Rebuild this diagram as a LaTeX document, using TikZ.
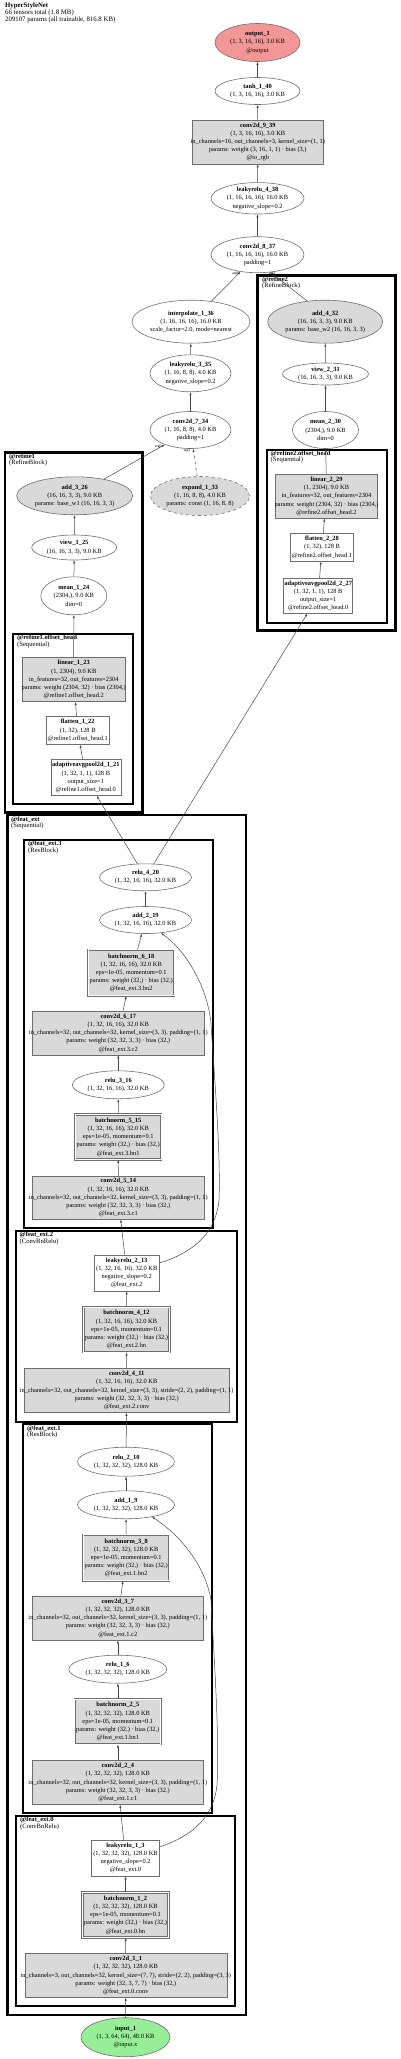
\documentclass[tikz,border=0pt]{standalone}
\usepackage{fontspec}
\setmainfont{Liberation Serif}
\usetikzlibrary{shapes.geometric,arrows.meta}
\definecolor{nodegray}{RGB}{217,217,217}
\definecolor{outred}{RGB}{243,150,150}
\definecolor{ingreen}{RGB}{150,238,150}
\definecolor{bord}{RGB}{110,110,110}
\definecolor{edgec}{RGB}{70,70,70}
\newcommand\mkl[1]{\makebox[0pt]{#1}}
\newcommand\nfont{\fontsize{6.4}{8.2}\selectfont}
\newcommand\cfont{\fontsize{6.6}{6.3}\selectfont}
\newcommand\hfont{\fontsize{6.8}{6}\selectfont}
\newcommand\efont{\fontsize{3.8}{4}\selectfont}
\tikzset{
  base/.style={draw=bord, line width=0.6pt, inner sep=0pt, align=center, font=\nfont},
  ell/.style={base, ellipse},
  box/.style={base, rectangle},
  gbox/.style={box, fill=nodegray},
  dbox/.style={gbox, double=white, double distance=1pt},
  edge/.style={draw=edgec, line width=0.5pt, -{Latex[length=3pt,width=2.2pt]}},
  elab/.style={font=\efont, inner sep=0pt, text=black},
  clA/.style={draw=black, line width=2.6pt},
  clB/.style={draw=black, line width=1.7pt},
  clab/.style={anchor=north west, align=left, inner sep=0pt, font=\cfont},
}
\begin{document}
\begin{tikzpicture}[x=1pt,y=-1pt]
\useasboundingbox (0,0) rectangle (400,2059);

% header
\node[anchor=north west, align=left, inner sep=0pt, font=\hfont] (title) at (5,2.2)
 {\textbf{HyperStyleNet}\\66 tensors total (1.8 MB)\\209107 params (all trainable, 816.8 KB)};

% clusters
\draw[clA] (257.7,275.7) rectangle (395.7,630.7);
\node[clab] (c_refine2) at (262,276.8) {\textbf{@refine2}\\(RefineBlock)};
\draw[clB] (266.7,450) rectangle (386.7,622.7);
\node[clab] (c_refine2oh) at (270.5,450.8) {\textbf{@refine2.offset\_head}\\(Sequential)};
\draw[clA] (5,452.3) rectangle (142.7,812.7);
\node[clab] (c_refine1) at (9,453.4) {\textbf{@refine1}\\(RefineBlock)};
\draw[clB] (13.3,634) rectangle (133.3,804.3);
\node[clab] (c_refine1oh) at (17,635) {\textbf{@refine1.offset\_head}\\(Sequential)};
\draw[clA] (7.3,815) rectangle (246,2015);
\node[clab] (c_feat) at (11,816.5) {\textbf{@feat\_ext}\\(Sequential)};
\draw[clB] (24,840) rectangle (212.7,1227.7);
\node[clab] (c_feat3) at (28,841) {\textbf{@feat\_ext.3}\\(ResBlock)};
\draw[clB] (15.7,1231) rectangle (237.3,1421.7);
\node[clab] (c_feat2) at (19.5,1232) {\textbf{@feat\_ext.2}\\(ConvBnRelu)};
\draw[clB] (23.3,1424.3) rectangle (212.3,1813.3);
\node[clab] (c_feat1) at (27,1425.3) {\textbf{@feat\_ext.1}\\(ResBlock)};
\draw[clB] (16,1816) rectangle (235.3,2006);
\node[clab] (c_feat0) at (20,1817) {\textbf{@feat\_ext.0}\\(ConvBnRelu)};

% nodes
\node[ell, fill=outred, minimum width=85pt, minimum height=38pt] (output1) at (257.5,42.5)
 {\mkl{\textbf{output\_1}}\\\mkl{(1, 3, 16, 16), 3.0 KB}\\\mkl{@output}};
\node[ell, minimum width=85pt, minimum height=27pt] (tanh40) at (257.5,91)
 {\mkl{\textbf{tanh\_1\_40}}\\\mkl{(1, 3, 16, 16), 3.0 KB}};
\node[gbox, minimum width=131pt, minimum height=44pt] (conv39) at (257.8,142)
 {\mkl{\textbf{conv2d\_9\_39}}\\\mkl{(1, 3, 16, 16), 3.0 KB}\\\mkl{in\_channels=16, out\_channels=3, kernel\_size=(1, 1)}\\\mkl{params: weight (3, 16, 1, 1) · bias (3,)}\\\mkl{@to\_rgb}};
\node[ell, minimum width=93pt, minimum height=31pt] (lrelu38) at (257.5,198.3)
 {\mkl{\textbf{leakyrelu\_4\_38}}\\\mkl{(1, 16, 16, 16), 16.0 KB}\\\mkl{negative\_slope=0.2}};
\node[ell, minimum width=93pt, minimum height=36pt] (conv37) at (257.5,254.7)
 {\mkl{\textbf{conv2d\_8\_37}}\\\mkl{(1, 16, 16, 16), 16.0 KB}\\\mkl{padding=1}};
\node[ell, minimum width=118pt, minimum height=43pt] (interp36) at (191,321.7)
 {\mkl{\textbf{interpolate\_1\_36}}\\\mkl{(1, 16, 16, 16), 16.0 KB}\\\mkl{scale\_factor=2.0, mode=nearest}};
\node[ell, fill=nodegray, minimum width=115pt, minimum height=43pt] (add32) at (325.2,321.7)
 {\mkl{\textbf{add\_4\_32}}\\\mkl{(16, 16, 3, 3), 9.0 KB}\\\mkl{params: base\_w2 (16, 16, 3, 3)}};
\node[ell, minimum width=81pt, minimum height=37pt] (lrelu35) at (190.5,373.3)
 {\mkl{\textbf{leakyrelu\_3\_35}}\\\mkl{(1, 16, 8, 8), 4.0 KB}\\\mkl{negative\_slope=0.2}};
\node[ell, minimum width=81pt, minimum height=37pt] (conv34) at (190.5,430)
 {\mkl{\textbf{conv2d\_7\_34}}\\\mkl{(1, 16, 8, 8), 4.0 KB}\\\mkl{padding=1}};
\node[ell, minimum width=86pt, minimum height=22pt] (view31) at (325.5,374)
 {\mkl{\textbf{view\_2\_31}}\\\mkl{(16, 16, 3, 3), 9.0 KB}};
\node[ell, minimum width=66pt, minimum height=37pt] (mean30) at (325.5,430)
 {\mkl{\textbf{mean\_2\_30}}\\\mkl{(2304,), 9.0 KB}\\\mkl{dim=0}};
\node[gbox, minimum width=102pt, minimum height=44pt] (lin29) at (326.5,496.3)
 {\mkl{\textbf{linear\_2\_29}}\\\mkl{(1, 2304), 9.0 KB}\\\mkl{in\_features=32, out\_features=2304}\\\mkl{params: weight (2304, 32) · bias (2304,)}\\\mkl{@refine2.offset\_head.2}};
\node[ell, fill=nodegray, minimum width=116pt, minimum height=38pt] (add26) at (74.7,495.8)
 {\mkl{\textbf{add\_3\_26}}\\\mkl{(16, 16, 3, 3), 9.0 KB}\\\mkl{params: base\_w1 (16, 16, 3, 3)}};
\node[ell, fill=nodegray, dashed, minimum width=99pt, minimum height=39pt] (expand33) at (200,496)
 {\mkl{\textbf{expand\_1\_33}}\\\mkl{(1, 16, 8, 8), 4.0 KB}\\\mkl{params: const (1, 16, 8, 8)}};
\node[ell, minimum width=85pt, minimum height=25pt] (view25) at (74.2,547.5)
 {\mkl{\textbf{view\_1\_25}}\\\mkl{(16, 16, 3, 3), 9.0 KB}};
\node[ell, minimum width=66pt, minimum height=38pt] (mean24) at (73.8,595.8)
 {\mkl{\textbf{mean\_1\_24}}\\\mkl{(2304,), 9.0 KB}\\\mkl{dim=0}};
\node[box, minimum width=63pt, minimum height=28pt] (flat28) at (322,547.2)
 {\mkl{\textbf{flatten\_2\_28}}\\\mkl{(1, 32), 128 B}\\\mkl{@refine2.offset\_head.1}};
\node[box, minimum width=69pt, minimum height=35pt] (pool27) at (318.2,595.8)
 {\mkl{\textbf{adaptiveavgpool2d\_2\_27}}\\\mkl{(1, 32, 1, 1), 128 B}\\\mkl{output\_size=1}\\\mkl{@refine2.offset\_head.0}};
\node[gbox, minimum width=103pt, minimum height=44pt] (lin23) at (73.7,679.7)
 {\mkl{\textbf{linear\_1\_23}}\\\mkl{(1, 2304), 9.0 KB}\\\mkl{in\_features=32, out\_features=2304}\\\mkl{params: weight (2304, 32) · bias (2304,)}\\\mkl{@refine1.offset\_head.2}};
\node[box, minimum width=63pt, minimum height=28pt] (flat22) at (77.7,730.5)
 {\mkl{\textbf{flatten\_1\_22}}\\\mkl{(1, 32), 128 B}\\\mkl{@refine1.offset\_head.1}};
\node[box, minimum width=70pt, minimum height=36pt] (pool21) at (85.8,777.5)
 {\mkl{\textbf{adaptiveavgpool2d\_1\_21}}\\\mkl{(1, 32, 1, 1), 128 B}\\\mkl{output\_size=1}\\\mkl{@refine1.offset\_head.0}};
\node[ell, minimum width=92pt, minimum height=27pt] (relu20) at (145.5,877.3)
 {\mkl{\textbf{relu\_4\_20}}\\\mkl{(1, 32, 16, 16), 32.0 KB}};
\node[ell, minimum width=92pt, minimum height=27pt] (add19) at (145.5,920)
 {\mkl{\textbf{add\_2\_19}}\\\mkl{(1, 32, 16, 16), 32.0 KB}};
\node[dbox, minimum width=86pt, minimum height=46pt] (bn18) at (131.2,972.8)
 {\mkl{\textbf{batchnorm\_6\_18}}\\\mkl{(1, 32, 16, 16), 32.0 KB}\\\mkl{eps=1e-05, momentum=0.1}\\\mkl{params: weight (32,) · bias (32,)}\\\mkl{@feat\_ext.3.bn2}};
\node[gbox, minimum width=172pt, minimum height=44pt] (conv17) at (118.3,1033)
 {\mkl{\textbf{conv2d\_6\_17}}\\\mkl{(1, 32, 16, 16), 32.0 KB}\\\mkl{in\_channels=32, out\_channels=32, kernel\_size=(3, 3), padding=(1, 1)}\\\mkl{params: weight (32, 32, 3, 3) · bias (32,)}\\\mkl{@feat\_ext.3.c2}};
\node[ell, minimum width=92pt, minimum height=28pt] (relu16) at (118.3,1084.8)
 {\mkl{\textbf{relu\_3\_16}}\\\mkl{(1, 32, 16, 16), 32.0 KB}};
\node[dbox, minimum width=86pt, minimum height=45pt] (bn15) at (118.2,1137)
 {\mkl{\textbf{batchnorm\_5\_15}}\\\mkl{(1, 32, 16, 16), 32.0 KB}\\\mkl{eps=1e-05, momentum=0.1}\\\mkl{params: weight (32,) · bias (32,)}\\\mkl{@feat\_ext.3.bn1}};
\node[gbox, minimum width=172pt, minimum height=43pt] (conv14) at (118.3,1197.7)
 {\mkl{\textbf{conv2d\_5\_14}}\\\mkl{(1, 32, 16, 16), 32.0 KB}\\\mkl{in\_channels=32, out\_channels=32, kernel\_size=(3, 3), padding=(1, 1)}\\\mkl{params: weight (32, 32, 3, 3) · bias (32,)}\\\mkl{@feat\_ext.3.c1}};
\node[box, minimum width=65pt, minimum height=36pt] (lrelu13) at (126.7,1273)
 {\mkl{\textbf{leakyrelu\_2\_13}}\\\mkl{(1, 32, 16, 16), 32.0 KB}\\\mkl{negative\_slope=0.2}\\\mkl{@feat\_ext.2}};
\node[dbox, minimum width=86pt, minimum height=45pt] (bn12) at (126.5,1329.7)
 {\mkl{\textbf{batchnorm\_4\_12}}\\\mkl{(1, 32, 16, 16), 32.0 KB}\\\mkl{eps=1e-05, momentum=0.1}\\\mkl{params: weight (32,) · bias (32,)}\\\mkl{@feat\_ext.2.bn}};
\node[gbox, minimum width=205pt, minimum height=44pt] (conv11) at (126.7,1390.5)
 {\mkl{\textbf{conv2d\_4\_11}}\\\mkl{(1, 32, 16, 16), 32.0 KB}\\\mkl{in\_channels=32, out\_channels=32, kernel\_size=(3, 3), stride=(2, 2), padding=(1, 1)}\\\mkl{params: weight (32, 32, 3, 3) · bias (32,)}\\\mkl{@feat\_ext.2.conv}};
\node[ell, minimum width=97pt, minimum height=29pt] (relu10) at (126,1461.7)
 {\mkl{\textbf{relu\_2\_10}}\\\mkl{(1, 32, 32, 32), 128.0 KB}};
\node[ell, minimum width=97pt, minimum height=28pt] (add9) at (126,1504.8)
 {\mkl{\textbf{add\_1\_9}}\\\mkl{(1, 32, 32, 32), 128.0 KB}};
\node[dbox, minimum width=86pt, minimum height=46pt] (bn8) at (126.2,1557.8)
 {\mkl{\textbf{batchnorm\_3\_8}}\\\mkl{(1, 32, 32, 32), 128.0 KB}\\\mkl{eps=1e-05, momentum=0.1}\\\mkl{params: weight (32,) · bias (32,)}\\\mkl{@feat\_ext.1.bn2}};
\node[gbox, minimum width=171pt, minimum height=44pt] (conv7) at (117.8,1618)
 {\mkl{\textbf{conv2d\_3\_7}}\\\mkl{(1, 32, 32, 32), 128.0 KB}\\\mkl{in\_channels=32, out\_channels=32, kernel\_size=(3, 3), padding=(1, 1)}\\\mkl{params: weight (32, 32, 3, 3) · bias (32,)}\\\mkl{@feat\_ext.1.c2}};
\node[ell, minimum width=98pt, minimum height=28pt] (relu6) at (117.8,1669.2)
 {\mkl{\textbf{relu\_1\_6}}\\\mkl{(1, 32, 32, 32), 128.0 KB}};
\node[dbox, minimum width=86pt, minimum height=45pt] (bn5) at (117.8,1721.7)
 {\mkl{\textbf{batchnorm\_2\_5}}\\\mkl{(1, 32, 32, 32), 128.0 KB}\\\mkl{eps=1e-05, momentum=0.1}\\\mkl{params: weight (32,) · bias (32,)}\\\mkl{@feat\_ext.1.bn1}};
\node[gbox, minimum width=171pt, minimum height=44pt] (conv4) at (117.8,1782.5)
 {\mkl{\textbf{conv2d\_2\_4}}\\\mkl{(1, 32, 32, 32), 128.0 KB}\\\mkl{in\_channels=32, out\_channels=32, kernel\_size=(3, 3), padding=(1, 1)}\\\mkl{params: weight (32, 32, 3, 3) · bias (32,)}\\\mkl{@feat\_ext.1.c1}};
\node[box, minimum width=68pt, minimum height=36pt] (lrelu3) at (125.5,1858)
 {\mkl{\textbf{leakyrelu\_1\_3}}\\\mkl{(1, 32, 32, 32), 128.0 KB}\\\mkl{negative\_slope=0.2}\\\mkl{@feat\_ext.0}};
\node[dbox, minimum width=86pt, minimum height=45pt] (bn2) at (125.5,1915)
 {\mkl{\textbf{batchnorm\_1\_2}}\\\mkl{(1, 32, 32, 32), 128.0 KB}\\\mkl{eps=1e-05, momentum=0.1}\\\mkl{params: weight (32,) · bias (32,)}\\\mkl{@feat\_ext.0.bn}};
\node[gbox, minimum width=202pt, minimum height=44pt] (conv1) at (125.8,1975.5)
 {\mkl{\textbf{conv2d\_1\_1}}\\\mkl{(1, 32, 32, 32), 128.0 KB}\\\mkl{in\_channels=3, out\_channels=32, kernel\_size=(7, 7), stride=(2, 2), padding=(3, 3)}\\\mkl{params: weight (32, 3, 7, 7) · bias (32,)}\\\mkl{@feat\_ext.0.conv}};
\node[ell, fill=ingreen, minimum width=89pt, minimum height=39pt] (input1) at (125.5,2037.2)
 {\mkl{\textbf{input\_1}}\\\mkl{(1, 3, 64, 64), 48.0 KB}\\\mkl{@input.x}};

% edges
\draw[edge] (input1) -- (conv1);
\draw[edge] (conv1) -- (bn2);
\draw[edge] (bn2) -- (lrelu3);
\draw[edge] (lrelu3) -- (conv4);
\draw[edge] (conv4) -- (bn5);
\draw[edge] (bn5) -- (relu6);
\draw[edge] (relu6) -- (conv7);
\draw[edge] (conv7) -- (bn8);
\draw[edge] (bn8) -- (add9);
\draw[edge] (add9) -- (relu10);
\draw[edge] (relu10) -- (conv11);
\draw[edge] (conv11) -- (bn12);
\draw[edge] (bn12) -- (lrelu13);
\draw[edge] (lrelu13) -- (conv14);
\draw[edge] (conv14) -- (bn15);
\draw[edge] (bn15) -- (relu16);
\draw[edge] (relu16) -- (conv17);
\draw[edge] (conv17) -- (bn18);
\draw[edge] (bn18) -- (add19);
\draw[edge] (add19) -- (relu20);
\draw[edge] (relu20) -- (pool21);
\draw[edge] (relu20) -- (pool27);
\draw[edge] (pool21) -- (flat22);
\draw[edge] (flat22) -- (lin23);
\draw[edge] (lin23) -- (mean24);
\draw[edge] (mean24) -- (view25);
\draw[edge] (view25) -- (add26);
\draw[edge] (add26) -- node[elab, at end, xshift=-6.5pt, yshift=-1.8pt] (l_a0) {arg0} (conv34);
\draw[edge, dashed] (expand33) -- node[elab, at end, xshift=-6pt, yshift=-1.5pt] (l_a1) {arg1} (conv34);
\draw[edge] (conv34) -- (lrelu35);
\draw[edge] (lrelu35) -- (interp36);
\draw[edge] (interp36) -- node[elab, at end, xshift=-5pt, yshift=-1.5pt] (l_b0) {arg0} (conv37);
\draw[edge] (add32.131) -- node[elab, at end, xshift=2pt, yshift=-1.4pt] (l_b1) {arg1} (conv37.-54);
\draw[edge] (pool27) -- (flat28);
\draw[edge] (flat28) -- (lin29);
\draw[edge] (lin29) -- (mean30);
\draw[edge] (mean30) -- (view31);
\draw[edge] (view31) -- (add32);
\draw[edge] (conv37) -- (lrelu38);
\draw[edge] (lrelu38) -- (conv39);
\draw[edge] (conv39) -- (tanh40);
\draw[edge] (tanh40) -- (output1);
% skip connections
\draw[edge] (lrelu3.18) .. controls (195,1835) and (214,1815) .. (217,1785)
  .. controls (220,1740) and (213,1640) .. (211,1600)
  .. controls (205,1565) and (180,1535) .. (add9.-25);
\draw[edge] (lrelu13.17) .. controls (195,1252) and (216,1232) .. (219,1200)
  .. controls (221,1150) and (213,1060) .. (211,1023)
  .. controls (207,985) and (185,950) .. (add19.-40);
\end{tikzpicture}
\end{document}
